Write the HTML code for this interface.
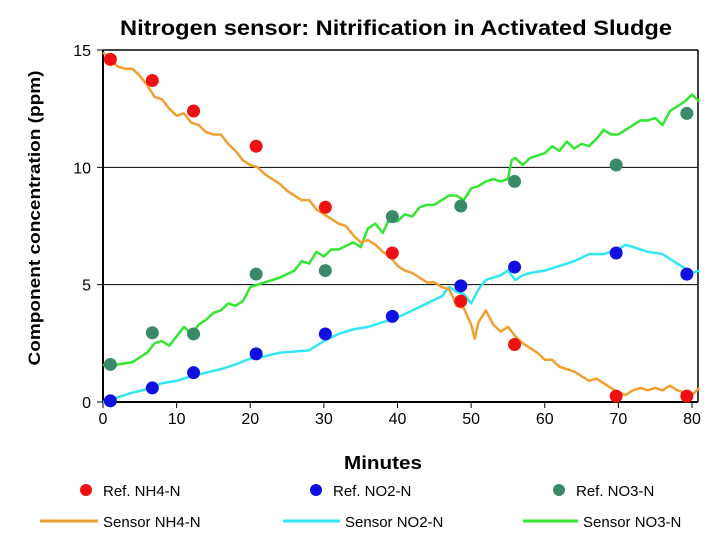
<!DOCTYPE html>
<html><head><meta charset="utf-8"><style>
body{margin:0;background:#fff;}
svg{display:block;font-family:"Liberation Sans",Arial,sans-serif;}
</style></head><body>
<svg id="chart" width="720" height="540" viewBox="0 0 720 540">
<text x="396" y="35" text-anchor="middle" font-size="21" font-weight="bold" textLength="552" lengthAdjust="spacingAndGlyphs">Nitrogen sensor: Nitrification in Activated Sludge</text>
<text transform="translate(40,218) rotate(-90)" text-anchor="middle" font-size="17" font-weight="bold" textLength="295" lengthAdjust="spacingAndGlyphs">Component concentration (ppm)</text>
<text x="383" y="469" text-anchor="middle" font-size="18" font-weight="bold" textLength="78" lengthAdjust="spacingAndGlyphs">Minutes</text>
<g id="grid"></g>
<g id="axes"></g>
<g id="lines"></g>
<g id="points"></g>
<g id="legend" font-size="15"></g>
</svg>
<script>
const xTicks=[0,10,20,30,40,50,60,70,80];
const yTicks=[0,5,10,15];
const refX=[1,6.7,12.3,20.8,30.2,39.3,48.6,55.9,69.7,79.3];
const refNH4=[14.6,13.7,12.4,10.9,8.3,6.35,4.3,2.45,0.25,0.25];
const refNO2=[0.05,0.6,1.25,2.05,2.9,3.65,4.95,5.75,6.35,5.45];
const refNO3=[1.6,2.95,2.9,5.45,5.6,7.9,8.35,9.4,10.1,12.3];
const nh4X=[0,1,2,3,4,5,6,7,8,9,10,11,12,13,14,15,16,17,18,19,20,21,22,23,24,25,26,27,28,29,30,31,32,33,34,35,36,37,38,39,40,41,42,43,44,45,46,47,47.5,48,49,50,50.5,51,52,53,54,55,56,57,58,59,60,61,62,63,64,65,66,67,68,69,70,71,72,73,74,75,76,77,78,79,80,81];
const nh4Y=[14.9,14.6,14.3,14.2,14.2,13.9,13.5,13.0,12.9,12.5,12.2,12.3,11.9,11.8,11.5,11.4,11.4,11.0,10.7,10.3,10.1,10.0,9.7,9.5,9.3,9.0,8.8,8.6,8.6,8.2,8.0,7.8,7.6,7.5,7.1,6.8,6.9,6.7,6.4,6.2,5.8,5.6,5.5,5.3,5.1,5.1,4.9,4.8,4.5,4.1,4.0,3.3,2.7,3.4,3.9,3.3,3.0,3.2,2.8,2.5,2.3,2.1,1.8,1.8,1.5,1.4,1.3,1.1,0.9,1.0,0.8,0.6,0.4,0.3,0.5,0.6,0.5,0.6,0.5,0.7,0.5,0.4,0.3,0.6];
const no2X=[0,2,4,6,8,10,12,14,16,18,20,22,24,26,28,30,32,34,36,38,40,42,44,46,47,48,49,50,51,52,54,55,56,57,58,60,62,64,66,68,70,71,72,74,76,78,80,81];
const no2Y=[0,0.2,0.4,0.55,0.8,0.9,1.1,1.25,1.4,1.6,1.85,1.95,2.1,2.15,2.2,2.6,2.9,3.1,3.2,3.4,3.6,3.9,4.2,4.5,4.9,4.7,4.6,4.2,4.8,5.2,5.4,5.6,5.2,5.4,5.5,5.6,5.8,6.0,6.3,6.3,6.5,6.7,6.6,6.4,6.3,5.9,5.5,5.6];
const no3X=[0,1,2,4,6,7,8,9,10,11,12,13,14,15,16,17,18,19,20,21,22,24,26,27,28,29,30,31,32,34,35,36,37,38,39,40,41,42,43,44,45,46,47,48,49,50,51,52,53,54,55,55.5,56,57,58,60,61,62,63,64,65,66,67,68,69,70,71,72,73,74,75,76,77,78,79,80,81];
const no3Y=[1.6,1.4,1.6,1.7,2.1,2.5,2.6,2.4,2.8,3.2,2.9,3.3,3.5,3.8,3.9,4.2,4.1,4.3,4.9,5.0,5.1,5.3,5.6,6.0,5.9,6.4,6.2,6.5,6.5,6.8,6.6,7.4,7.6,7.2,7.9,7.7,8.0,7.9,8.3,8.4,8.4,8.6,8.8,8.8,8.6,9.1,9.2,9.4,9.5,9.4,9.5,10.3,10.4,10.1,10.4,10.6,10.9,10.7,11.1,10.8,11.0,10.9,11.2,11.6,11.4,11.4,11.6,11.8,12.0,12.0,12.1,11.8,12.4,12.6,12.8,13.1,12.8];

const NS="http://www.w3.org/2000/svg";
const X0=103,XR=698,YB=402,YT=50;
const sx=v=>X0+v*(692-103)/80;
const sy=v=>YB-v*(YB-YT)/15;
function mk(tag,attrs,parent){const e=document.createElementNS(NS,tag);for(const k in attrs)e.setAttribute(k,attrs[k]);parent.appendChild(e);return e;}
const grid=document.getElementById('grid'),axes=document.getElementById('axes');
yTicks.forEach(t=>{
  if(t>0){const l=mk('line',{x1:X0,x2:XR,y1:sy(t),y2:sy(t),stroke:'#000','stroke-width':1},grid);
  
  }
  mk('line',{x1:X0-6,x2:X0,y1:sy(t),y2:sy(t),stroke:'#000'},axes);
  const tx=mk('text',{x:X0-12,y:sy(t)+6,'text-anchor':'end','font-size':16},axes);
  tx.textContent=t;
  
  
});
xTicks.forEach(t=>{
  mk('line',{x1:sx(t),x2:sx(t),y1:YB,y2:YB+6,stroke:'#000'},axes);
  const tx=mk('text',{x:sx(t),y:YB+22,'text-anchor':'middle','font-size':16},axes);
  tx.textContent=t;
  
  
});
mk('line',{x1:X0,x2:X0,y1:YT,y2:YB,stroke:'#000','stroke-width':2},axes);
mk('line',{x1:X0,x2:XR,y1:YB,y2:YB,stroke:'#000','stroke-width':2},axes);
mk('line',{x1:XR,x2:XR,y1:YT,y2:YB,stroke:'#000','stroke-width':1.5},axes);
mk('line',{x1:X0,x2:XR,y1:YT,y2:YT,stroke:'#000','stroke-width':1.5},axes);

const lines=document.getElementById('lines');
function drawLine(xs,ys,color,name){
  const p=mk('polyline',{points:xs.map((x,i)=>sx(x)+','+sy(ys[i])).join(' '),fill:'none',stroke:color,'stroke-width':2.5,'stroke-linejoin':'round'},lines);
  
  
}
drawLine(no2X,no2Y,'#33e6f0','sensor-no2-line');
drawLine(no3X,no3Y,'#33e633','sensor-no3-line');
drawLine(nh4X,nh4Y,'#f0a030','sensor-nh4-line');
const pts=document.getElementById('points');
function drawPts(ys,color,name){
  refX.forEach((x,i)=>{
    const c=mk('circle',{cx:sx(x),cy:sy(ys[i]),r:6.5,fill:color},pts);
    
    
  });
}
drawPts(refNO3,'#3a8a6a','ref-no3-point');
drawPts(refNO2,'#1010e0','ref-no2-point');
drawPts(refNH4,'#ee1111','ref-nh4-point');

const leg=document.getElementById('legend');
const legDots=[[86,'#ee1111','Ref. NH4-N'],[316,'#1010e0','Ref. NO2-N'],[559,'#3a8a6a','Ref. NO3-N']];
legDots.forEach(d=>{
  const c=mk('circle',{cx:d[0],cy:490,r:6,fill:d[1]},leg);
  
  
  const t=mk('text',{x:d[0]+17,y:496},leg);t.textContent=d[2];
  
  
});
const legLines=[[40,98,'#f0a030','Sensor NH4-N'],[283,340,'#33e6f0','Sensor NO2-N'],[523,578,'#33e633','Sensor NO3-N']];
legLines.forEach(d=>{
  const l=mk('line',{x1:d[0],x2:d[1],y1:521,y2:521,stroke:d[2],'stroke-width':3},leg);
  
  
  const t=mk('text',{x:d[1]+5,y:527},leg);t.textContent=d[3];
  
  
});
</script>
</body></html>
